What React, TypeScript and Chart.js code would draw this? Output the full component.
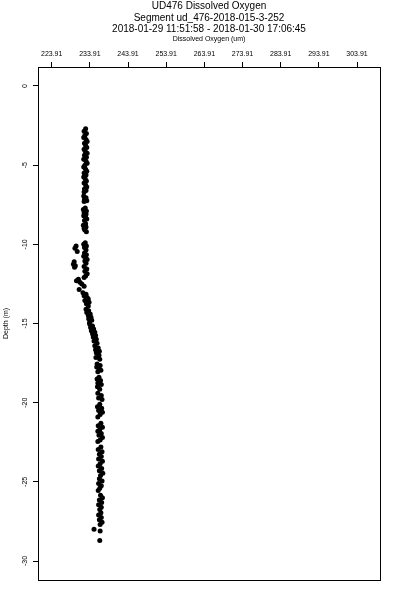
import React, { useEffect, useRef } from "react";
import { Chart, registerables } from "chart.js";

Chart.register(...registerables);

const titleLines = [
  "UD476 Dissolved Oxygen",
  "Segment ud_476-2018-015-3-252",
  "2018-01-29 11:51:58 - 2018-01-30 17:06:45",
];
const xAxisTitle = "Dissolved Oxygen (um)";
const yAxisTitle = "Depth (m)";
const xTicks = [223.91, 233.91, 243.91, 253.91, 263.91, 273.91, 283.91, 293.91, 303.91];
const yTicks = [0, -5, -10, -15, -20, -25, -30];

const depth = [
  -2.7, -2.85, -3.0, -3.12, -3.25, -3.38, -3.5, -3.62, -3.75, -3.88, -4.0, -4.12, -4.25, -4.38, -4.5, -4.62,
  -4.75, -4.88, -5.0, -5.12, -5.25, -5.38, -5.5, -5.62, -5.75, -5.88, -6.0, -6.12, -6.25, -6.38, -6.5, -6.6, -6.7,
  -6.95, -7.05, -7.15, -7.25, -7.3,
  -7.7, -7.8, -7.9, -8.0, -8.1, -8.2, -8.3, -8.4, -8.5,
  -8.7, -8.8, -8.9, -9.0, -9.1, -9.2,
  -9.9, -10.0, -10.1, -10.2, -10.35,
  -10.1, -10.25, -10.45, -10.55, -10.65, -10.75, -10.85, -10.95, -11.05,
  -11.1, -11.25, -11.35, -11.45, -11.2, -11.4, -11.55, -11.7, -11.85, -12.0, -12.1,
  -12.2, -12.3, -12.4, -12.5, -12.65, -12.85,
  -13.05, -13.15, -13.25, -13.35, -13.45, -13.55, -13.65, -13.75, -13.9,
  -14.1, -14.2, -14.3, -14.4, -14.5, -14.6, -14.7, -14.8, -14.95,
  -15.05, -15.15, -15.25, -15.35, -15.45, -15.55, -15.65, -15.75, -15.85, -16.0, -16.1, -16.25,
  -16.4, -16.55, -16.65, -16.75, -16.85, -17.0, -17.15, -17.25,
  -17.55, -17.65, -17.75, -17.85, -17.95, -18.05,
  -18.4, -18.5, -18.6, -18.75, -18.85, -19.0, -19.15,
  -19.4, -19.55, -19.7, -19.8,
  -20.1, -20.25, -20.35, -20.5, -20.6, -20.75, -20.9,
  -21.3, -21.45, -21.55, -21.7, -21.8, -21.95, -22.05, -22.2, -22.35, -22.45,
  -22.8, -22.95, -23.1, -23.25, -23.4,
  -23.55, -23.7, -23.85, -24.0, -24.15, -24.3, -24.45, -24.6,
  -24.8, -24.95, -25.1, -25.25, -25.4, -25.55,
  -25.85, -26.0, -26.15, -26.3, -26.45, -26.6, -26.75,
  -26.95, -27.1, -27.25, -27.4, -27.55, -27.7,
  -28.0, -28.1, -28.7,
];

const oxygen = [
  232.8, 232.4, 233.0, 232.6, 232.3, 232.9, 233.2, 232.5, 232.8, 233.1, 232.4, 232.7, 233.2, 232.5, 233.0, 232.3,
  232.9, 233.2, 232.6, 232.3, 232.8, 233.1, 232.4, 232.9, 232.3, 232.7, 233.0, 232.4, 232.8, 233.1, 232.5, 232.9, 232.4,
  232.3, 232.9, 232.5, 233.1, 232.4,
  232.7, 232.2, 233.0, 232.4, 232.9, 232.3, 232.8, 233.1, 232.5,
  232.8, 232.2, 232.9, 232.4, 232.6, 233.0,
  232.7, 232.3, 233.0, 232.5, 232.9,
  230.3, 230.0, 230.6, 232.5, 233.0, 232.3, 232.8, 233.2, 232.6,
  229.8, 229.6, 230.1, 229.9, 232.9, 232.4, 233.1, 232.6, 233.2, 232.8, 232.4,
  230.9, 230.4, 231.3, 231.8, 232.4, 231.1,
  232.1, 232.9, 232.4, 233.2, 233.5, 232.6, 233.7, 233.0, 233.5,
  232.9, 233.6, 233.1, 234.0, 233.5, 234.2, 233.6, 234.4, 233.8,
  233.9, 234.6, 234.1, 234.9, 234.3, 235.2, 234.6, 235.4, 234.8, 235.6, 235.0, 235.8,
  235.2, 236.1, 235.4, 236.4, 235.6, 236.3, 235.5, 236.5,
  235.8, 236.6, 235.7, 236.3, 236.8, 236.0,
  236.3, 235.8, 236.7, 236.0, 236.9, 235.9, 236.5,
  236.0, 236.9, 236.2, 237.1,
  236.5, 235.9, 237.0, 236.2, 237.2, 236.6, 236.0,
  236.8, 236.1, 237.2, 236.5, 236.0, 236.9, 236.3, 237.2, 236.6, 236.0,
  236.8, 236.1, 237.1, 236.4, 236.9,
  236.2, 237.2, 236.6, 236.1, 237.0, 236.4, 237.3, 236.7,
  236.4, 237.1, 236.2, 236.9, 236.5, 236.1,
  236.7, 237.2, 236.4, 237.0, 236.2, 236.9, 236.5,
  236.8, 236.2, 236.9, 236.4, 237.1, 236.6,
  235.0, 236.6, 236.5,
];

const FONT = "'Liberation Sans', Arial, Helvetica, sans-serif";

const boxPlugin = {
  id: "plotBox",
  afterDraw(chart: any) {
    const { ctx, chartArea } = chart;
    const l = Math.round(chartArea.left) + 0.5;
    const t = Math.round(chartArea.top) + 0.5;
    const r = Math.round(chartArea.right) + 0.5;
    const b = Math.round(chartArea.bottom) + 0.5;
    ctx.save();
    ctx.strokeStyle = "#000";
    ctx.lineWidth = 1;
    ctx.strokeRect(l, t, r - l, b - t);
    ctx.restore();
  },
};

export default function App() {
  const ref = useRef<HTMLCanvasElement | null>(null);

  useEffect(() => {
    if (!ref.current) return;
    const points = depth.map((d, i) => ({ x: oxygen[i], y: d }));
    const chart = new Chart(ref.current, {
      type: "scatter",
      data: {
        datasets: [
          {
            data: points,
            backgroundColor: "#000",
            borderColor: "#000",
            borderWidth: 0,
            pointRadius: 2.5,
            pointStyle: "circle",
          },
        ],
      },
      options: {
        responsive: false,
        animation: false,
        devicePixelRatio: 1,
        layout: { padding: { left: 0, top: 0, right: 20, bottom: 20 } },
        plugins: {
          legend: { display: false },
          tooltip: { enabled: false },
          title: {
            display: true,
            text: titleLines,
            fullSize: false,
            color: "#000",
            font: { family: FONT, size: 10, weight: "normal", lineHeight: 1.14 },
            padding: { top: 1, bottom: 0 },
          },
        },
        scales: {
          x: {
            type: "linear",
            position: "top",
            min: 220.32,
            max: 309.93,
            afterBuildTicks: (s: any) => {
              s.ticks = xTicks.map((v) => ({ value: v }));
            },
            afterFit: (s: any) => {
              s.height = 31.8;
            },
            ticks: {
              autoSkip: false,
              maxRotation: 0,
              minRotation: 0,
              padding: 3.6,
              color: "#000",
              font: { family: FONT, size: 7, lineHeight: 1.2 },
              callback: (v: any) => String(v),
            },
            grid: {
              drawOnChartArea: false,
              drawTicks: true,
              tickLength: 5,
              color: "#000",
              lineWidth: 1,
            },
            border: { display: false },
            title: {
              display: true,
              text: xAxisTitle,
              color: "#000",
              font: { family: FONT, size: 7, lineHeight: 1.2 },
              padding: { top: 0, bottom: 0 },
            },
          },
          y: {
            type: "linear",
            position: "left",
            min: -31.2,
            max: 1.2,
            afterBuildTicks: (s: any) => {
              s.ticks = yTicks.map((v) => ({ value: v }));
            },
            afterFit: (s: any) => {
              s.width = 38;
            },
            ticks: {
              autoSkip: false,
              minRotation: 90,
              maxRotation: 90,
              crossAlign: "center",
              padding: 3,
              color: "#000",
              font: { family: FONT, size: 7, lineHeight: 1.2 },
              callback: (v: any) => String(v),
            },
            grid: {
              drawOnChartArea: false,
              drawTicks: true,
              tickLength: 5,
              color: "#000",
              lineWidth: 1,
            },
            border: { display: false },
            title: {
              display: true,
              text: yAxisTitle,
              color: "#000",
              font: { family: FONT, size: 7, lineHeight: 1.2 },
              padding: { top: 1.5, bottom: 0 },
            },
          },
        },
      },
      plugins: [boxPlugin],
    } as any);
    return () => chart.destroy();
  }, []);

  return (
    <div style={{ position: "absolute", left: 0, top: 0, width: 400, height: 600, background: "#fff" }}>
      <canvas ref={ref} width={400} height={600} style={{ display: "block" }} />
    </div>
  );
}
